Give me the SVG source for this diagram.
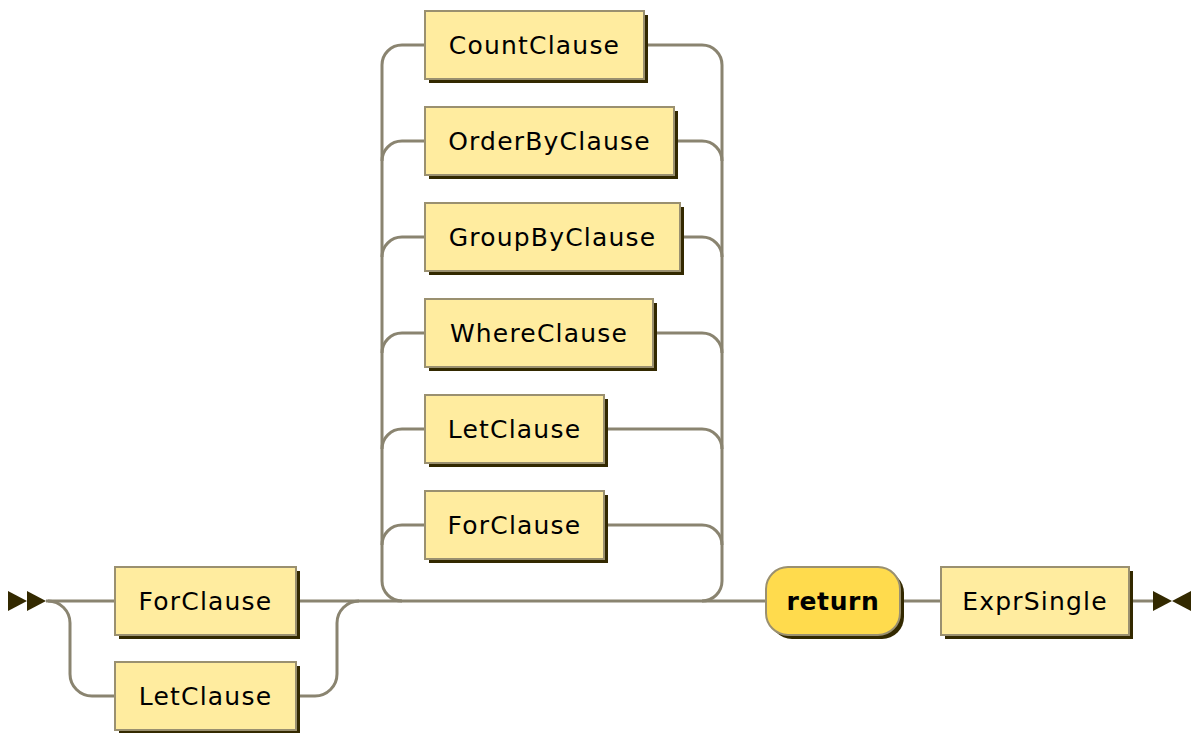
<svg xmlns="http://www.w3.org/2000/svg" width="1195" height="733" viewBox="0 0 1195 733">
<style>
.line{fill:none;stroke:#8a8470;stroke-width:3}
.nt{fill:#FFEC9F;stroke:#9a9070;stroke-width:2}
.t{fill:#FFDB4D;stroke:#9a9070;stroke-width:2}
.sh{fill:#332900}
.lbl{font-family:"DejaVu Sans",Verdana,sans-serif;font-size:25px;letter-spacing:1.2px;fill:#000;text-anchor:middle}
.kw{font-weight:bold;letter-spacing:0.6px}
.mk{fill:#332900}
</style>
<rect width="1195" height="733" fill="#fff"/>
<g id="connectors">
<polygon class="mk" points="8,591 8,611 27,601"/>
<polygon class="mk" points="27,591 27,611 46,601"/>
<polygon class="mk" points="1153,591 1153,611 1172,601"/>
<polygon class="mk" points="1191,591 1191,611 1172,601"/>
<path class="line" d="M46 601 H115"/>
<path class="line" d="M48 601 a22 22 0 0 1 22 22 V674 a22 22 0 0 0 22 22 H115"/>
<path class="line" d="M296 601 H766"/>
<path class="line" d="M296 696 H315 a22 22 0 0 0 22 -22 V623 a22 22 0 0 1 22 -22"/>
<path class="line" d="M402 601 a20 20 0 0 1 -20 -20 V65 a20 20 0 0 1 20 -20 H425"/>
<path class="line" d="M382 161 a20 20 0 0 1 20 -20 H425"/>
<path class="line" d="M382 257 a20 20 0 0 1 20 -20 H425"/>
<path class="line" d="M382 353 a20 20 0 0 1 20 -20 H425"/>
<path class="line" d="M382 449 a20 20 0 0 1 20 -20 H425"/>
<path class="line" d="M382 545 a20 20 0 0 1 20 -20 H425"/>
<path class="line" d="M644 45 H702 a20 20 0 0 1 20 20 V581 a20 20 0 0 1 -20 20"/>
<path class="line" d="M674 141 H702 a20 20 0 0 1 20 20"/>
<path class="line" d="M680 237 H702 a20 20 0 0 1 20 20"/>
<path class="line" d="M653 333 H702 a20 20 0 0 1 20 20"/>
<path class="line" d="M604 429 H702 a20 20 0 0 1 20 20"/>
<path class="line" d="M604 525 H702 a20 20 0 0 1 20 20"/>
<path class="line" d="M900 601 H941"/>
<path class="line" d="M1129 601 H1153"/>
</g>
<g id="ForClause1">
<rect class="sh" x="119" y="571" width="181" height="68"/>
<rect class="nt" x="115" y="567" width="181" height="68"/>
<text class="lbl" x="205.5" y="610">ForClause</text>
</g>
<g id="LetClause1">
<rect class="sh" x="119" y="666" width="181" height="68"/>
<rect class="nt" x="115" y="662" width="181" height="68"/>
<text class="lbl" x="205.5" y="705">LetClause</text>
</g>
<g id="CountClause">
<rect class="sh" x="429" y="15" width="219" height="68"/>
<rect class="nt" x="425" y="11" width="219" height="68"/>
<text class="lbl" x="534.5" y="54">CountClause</text>
</g>
<g id="OrderByClause">
<rect class="sh" x="429" y="111" width="249" height="68"/>
<rect class="nt" x="425" y="107" width="249" height="68"/>
<text class="lbl" x="549.5" y="150">OrderByClause</text>
</g>
<g id="GroupByClause">
<rect class="sh" x="429" y="207" width="255" height="68"/>
<rect class="nt" x="425" y="203" width="255" height="68"/>
<text class="lbl" x="552.5" y="246">GroupByClause</text>
</g>
<g id="WhereClause">
<rect class="sh" x="429" y="303" width="228" height="68"/>
<rect class="nt" x="425" y="299" width="228" height="68"/>
<text class="lbl" x="539" y="342">WhereClause</text>
</g>
<g id="LetClause2">
<rect class="sh" x="429" y="399" width="179" height="68"/>
<rect class="nt" x="425" y="395" width="179" height="68"/>
<text class="lbl" x="514.5" y="438">LetClause</text>
</g>
<g id="ForClause2">
<rect class="sh" x="429" y="495" width="179" height="68"/>
<rect class="nt" x="425" y="491" width="179" height="68"/>
<text class="lbl" x="514.5" y="534">ForClause</text>
</g>
<g id="return">
<rect class="sh" x="770" y="571" width="134" height="68" rx="22"/>
<rect class="t" x="766" y="567" width="134" height="68" rx="22"/>
<text class="lbl kw" x="833" y="610">return</text>
</g>
<g id="ExprSingle">
<rect class="sh" x="945" y="571" width="188" height="68"/>
<rect class="nt" x="941" y="567" width="188" height="68"/>
<text class="lbl" x="1035" y="610">ExprSingle</text>
</g>
</svg>
